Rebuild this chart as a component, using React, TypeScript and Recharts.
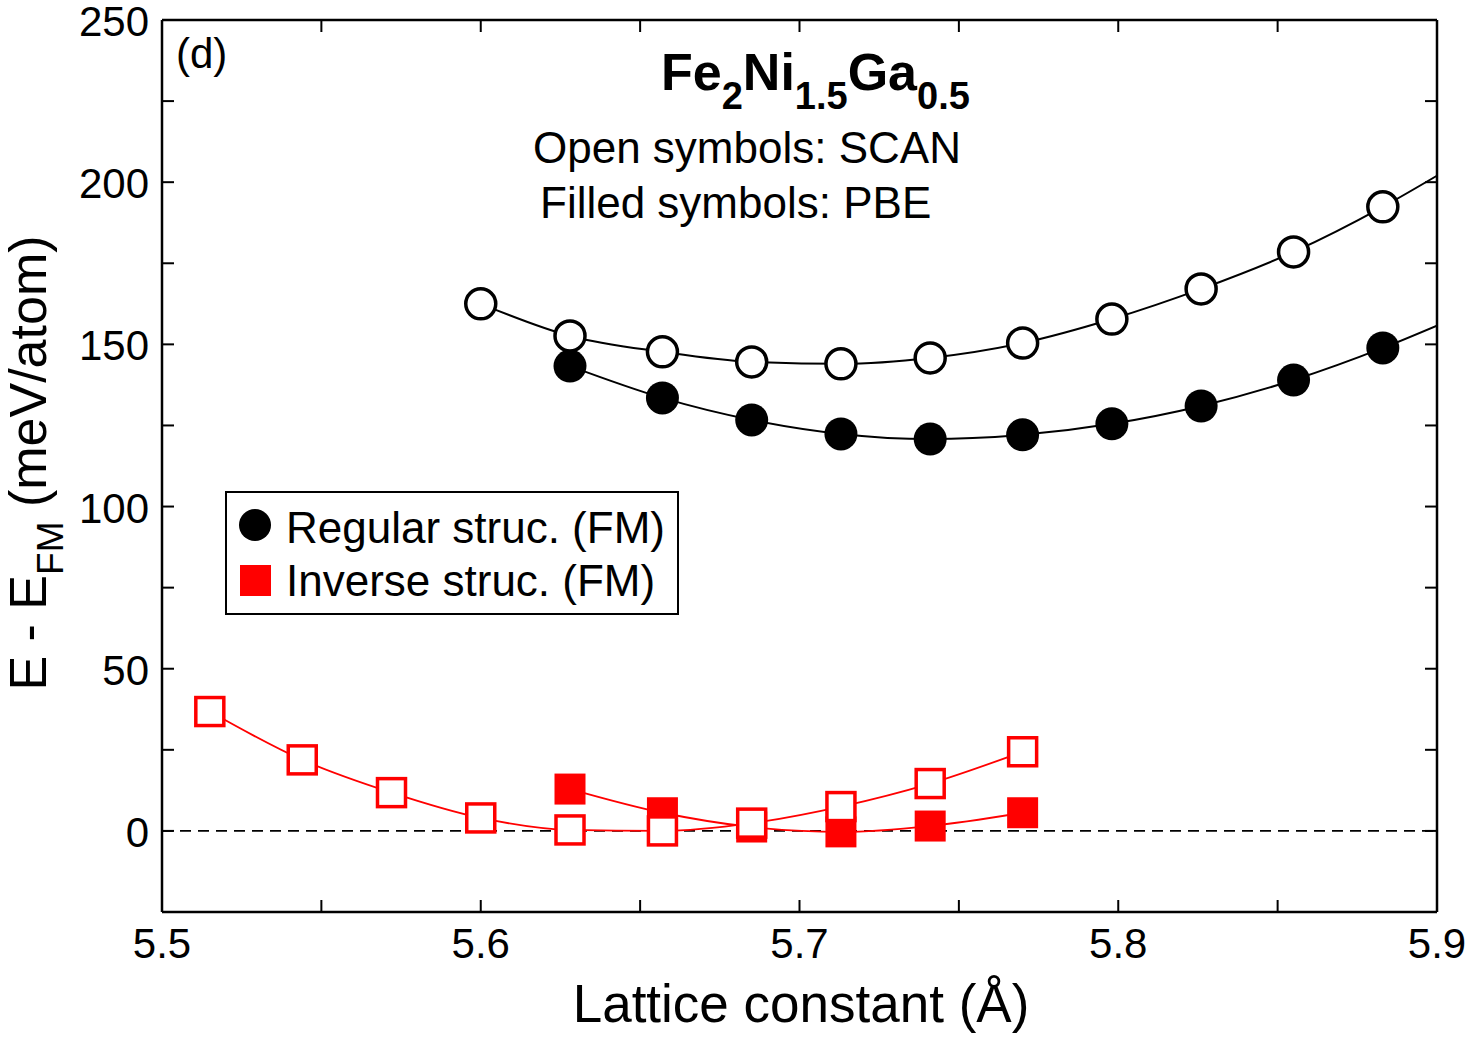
import React from 'react';
import { ComposedChart, Line, Scatter, XAxis, YAxis, ReferenceLine } from 'recharts';

// lattice constants (Å)
const latticeRegular = [5.6, 5.628, 5.657, 5.685, 5.713, 5.741, 5.77, 5.798, 5.826, 5.855, 5.883];
const latticeRegularPbe = [5.628, 5.657, 5.685, 5.713, 5.741, 5.77, 5.798, 5.826, 5.855, 5.883];
const latticeInverse = [5.515, 5.544, 5.572, 5.6, 5.628, 5.657, 5.685, 5.713, 5.741, 5.77];
const latticeInversePbe = [5.628, 5.657, 5.685, 5.713, 5.741, 5.77];

// E - E_FM (meV/atom)
const scanRegular = [162.5, 152.6, 147.7, 144.6, 144.0, 145.8, 150.4, 157.8, 167.1, 178.5, 192.4];
const pbeRegular = [143.3, 133.5, 126.7, 122.4, 120.8, 122.1, 125.5, 131.0, 139.0, 148.9];
const scanInverse = [36.8, 21.9, 11.8, 4.0, 0.3, 0.0, 2.4, 7.5, 14.6, 24.4];
const pbeInverse = [12.9, 5.6, 1.2, -0.3, 1.5, 5.6];

// fitted curves run on to the right edge
const fitEdgeX = 5.9;
const scanRegularEdge = 202;
const pbeRegularEdge = 155.8;

const xTicks = [5.5, 5.55, 5.6, 5.65, 5.7, 5.75, 5.8, 5.85, 5.9];
const yTicks = [0, 25, 50, 75, 100, 125, 150, 175, 200, 225, 250];

const W = 1471;
const H = 1038;
const PLOT_LEFT = 162;
const PLOT_TOP = 20;
const PLOT_RIGHT = 1437;
const PLOT_BOTTOM = 912;
const TICK = 12;
const AXIS_W = 40;
const AXIS_SIDE = 10;
const FONT = '"Liberation Sans", Arial, Helvetica, sans-serif';

const toPoints = (xs: number[], ys: number[]) => xs.map((x, i) => ({ x, y: ys[i] }));

const scanRegularPts = toPoints(latticeRegular, scanRegular);
const pbeRegularPts = toPoints(latticeRegularPbe, pbeRegular);
const scanInversePts = toPoints(latticeInverse, scanInverse);
const pbeInversePts = toPoints(latticeInversePbe, pbeInverse);

const scanRegularCurve = [...scanRegularPts, { x: fitEdgeX, y: scanRegularEdge }];
const pbeRegularCurve = [...pbeRegularPts, { x: fitEdgeX, y: pbeRegularEdge }];

const isMajorX = (v: number) => Math.abs(v * 10 - Math.round(v * 10)) < 1e-6;

const BottomTick = (props: any) => {
  const { x, payload } = props;
  const v = payload.value;
  return (
    <g>
      <line x1={x} x2={x} y1={PLOT_BOTTOM} y2={PLOT_BOTTOM - TICK} stroke="#000" strokeWidth={2} />
      {isMajorX(v) && (
        <text x={x} y={PLOT_BOTTOM + 46} textAnchor="middle" fontSize={42} fontFamily={FONT} fill="#000">
          {v.toFixed(1)}
        </text>
      )}
    </g>
  );
};

const TopTick = (props: any) => {
  const { x } = props;
  return <line x1={x} x2={x} y1={PLOT_TOP} y2={PLOT_TOP + TICK} stroke="#000" strokeWidth={2} />;
};

const LeftTick = (props: any) => {
  const { y, payload } = props;
  const v = payload.value;
  return (
    <g>
      <line x1={PLOT_LEFT} x2={PLOT_LEFT + TICK} y1={y} y2={y} stroke="#000" strokeWidth={2} />
      {v % 50 === 0 && (
        <text x={PLOT_LEFT - 13} y={y + 16} textAnchor="end" fontSize={42} fontFamily={FONT} fill="#000">
          {v}
        </text>
      )}
    </g>
  );
};

const RightTick = (props: any) => {
  const { y } = props;
  return <line x1={PLOT_RIGHT} x2={PLOT_RIGHT - TICK} y1={y} y2={y} stroke="#000" strokeWidth={2} />;
};

const OpenCircle = (props: any) => (
  <circle cx={props.cx} cy={props.cy} r={15} fill="#fff" stroke="#000" strokeWidth={3.5} />
);
const FilledCircle = (props: any) => <circle cx={props.cx} cy={props.cy} r={16.5} fill="#000" />;
const OpenSquare = (props: any) => (
  <rect x={props.cx - 14} y={props.cy - 14} width={28} height={28} fill="#fff" stroke="#ff0000" strokeWidth={3.5} />
);
const FilledSquare = (props: any) => (
  <rect x={props.cx - 15.5} y={props.cy - 15.5} width={31} height={31} fill="#ff0000" />
);

const axisLine = { stroke: '#000', strokeWidth: 2.5 };

export default function App() {
  return (
    <div style={{ position: 'absolute', left: 0, top: 0, width: W, height: H, background: '#fff' }}>
      <ComposedChart
        width={W}
        height={H}
        margin={{
          top: PLOT_TOP - AXIS_SIDE,
          right: W - PLOT_RIGHT - AXIS_SIDE,
          bottom: H - PLOT_BOTTOM - AXIS_W,
          left: PLOT_LEFT - AXIS_W,
        }}
      >
        <XAxis
          xAxisId={0}
          type="number"
          dataKey="x"
          domain={[5.5, 5.9]}
          ticks={xTicks}
          interval={0}
          allowDataOverflow
          height={AXIS_W}
          tickLine={false}
          axisLine={axisLine}
          tick={<BottomTick />}
        />
        <XAxis
          xAxisId="top"
          orientation="top"
          type="number"
          dataKey="x"
          domain={[5.5, 5.9]}
          ticks={xTicks}
          interval={0}
          allowDataOverflow
          height={AXIS_SIDE}
          tickLine={false}
          axisLine={axisLine}
          tick={<TopTick />}
        />
        <YAxis
          yAxisId={0}
          type="number"
          domain={[-25, 250]}
          ticks={yTicks}
          interval={0}
          allowDataOverflow
          width={AXIS_W}
          tickLine={false}
          axisLine={axisLine}
          tick={<LeftTick />}
        />
        <YAxis
          yAxisId="right"
          orientation="right"
          type="number"
          domain={[-25, 250]}
          ticks={yTicks}
          interval={0}
          allowDataOverflow
          width={AXIS_SIDE}
          tickLine={false}
          axisLine={axisLine}
          tick={<RightTick />}
        />
        <ReferenceLine y={0} stroke="#000" strokeWidth={1.6} strokeDasharray="11 7" />

        <Line data={scanRegularCurve} dataKey="y" type="monotone" stroke="#000" strokeWidth={2} dot={false} isAnimationActive={false} />
        <Line data={pbeRegularCurve} dataKey="y" type="monotone" stroke="#000" strokeWidth={2} dot={false} isAnimationActive={false} />
        <Line data={scanInversePts} dataKey="y" type="monotone" stroke="#ff0000" strokeWidth={1.8} dot={false} isAnimationActive={false} />
        <Line data={pbeInversePts} dataKey="y" type="monotone" stroke="#ff0000" strokeWidth={1.8} dot={false} isAnimationActive={false} />

        <Scatter data={pbeInversePts} dataKey="y" shape={<FilledSquare />} isAnimationActive={false} />
        <Scatter data={scanInversePts} dataKey="y" shape={<OpenSquare />} isAnimationActive={false} />
        <Scatter data={pbeRegularPts} dataKey="y" shape={<FilledCircle />} isAnimationActive={false} />
        <Scatter data={scanRegularPts} dataKey="y" shape={<OpenCircle />} isAnimationActive={false} />
      </ComposedChart>

      <svg width={W} height={H} style={{ position: 'absolute', left: 0, top: 0, pointerEvents: 'none' }} fontFamily={FONT}>
        <text x={176} y={68} fontSize={42} fill="#000">(d)</text>
        <text x={661} y={90} fontSize={52} fontWeight="bold" fill="#000">
          Fe<tspan fontSize={38} dy={19}>2</tspan>
          <tspan dy={-19}>Ni</tspan>
          <tspan fontSize={38} dy={19}>1.5</tspan>
          <tspan dy={-19}>Ga</tspan>
          <tspan fontSize={38} dy={19}>0.5</tspan>
        </text>
        <text x={533} y={163} fontSize={44} fill="#000">Open symbols: SCAN</text>
        <text x={540} y={218} fontSize={44} fill="#000">Filled symbols: PBE</text>

        <rect x={226} y={492} width={452} height={122} fill="#fff" stroke="#000" strokeWidth={2} />
        <circle cx={255} cy={525} r={16} fill="#000" />
        <text x={286} y={543} fontSize={44} fill="#000">Regular struc. (FM)</text>
        <rect x={240} y={565} width={31} height={31} fill="#ff0000" />
        <text x={286} y={596} fontSize={44} fill="#000">Inverse struc. (FM)</text>

        <text x={801} y={1022} fontSize={53} textAnchor="middle" fill="#000">Lattice constant (Å)</text>
        <text transform="translate(46,463) rotate(-90)" fontSize={52} textAnchor="middle" fill="#000">
          E - E<tspan fontSize={37} dy={17}>FM</tspan>
          <tspan dy={-17}> (meV/atom)</tspan>
        </text>
      </svg>
    </div>
  );
}
